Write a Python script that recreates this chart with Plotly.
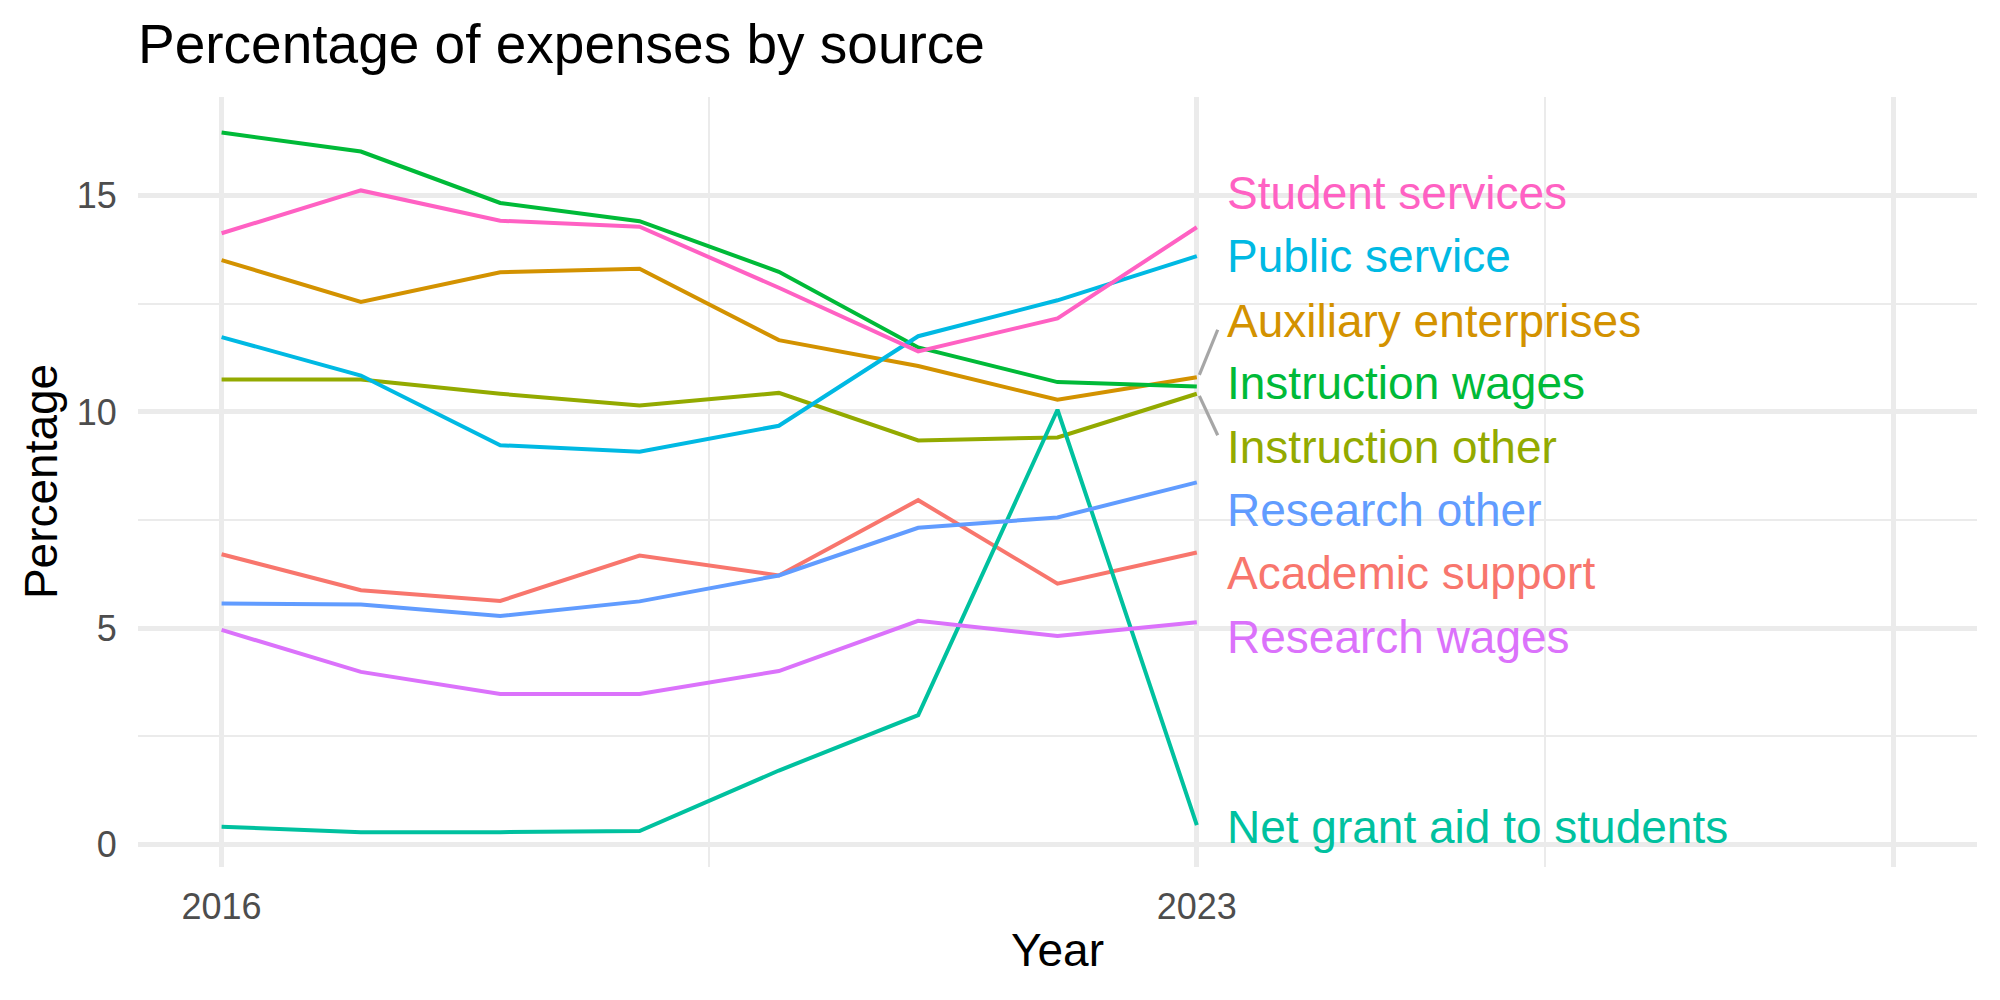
import plotly.graph_objects as go

years = [2016, 2017, 2018, 2019, 2020, 2021, 2022, 2023]

categories = [
    "Academic support",
    "Auxiliary enterprises",
    "Instruction other",
    "Instruction wages",
    "Net grant aid to students",
    "Public service",
    "Research other",
    "Research wages",
    "Student services",
]

academic_support = [6.71, 5.88, 5.63, 6.68, 6.22, 7.96, 6.03, 6.75]
auxiliary_enterprises = [13.51, 12.54, 13.23, 13.31, 11.66, 11.06, 10.28, 10.80]
instruction_other = [10.75, 10.75, 10.42, 10.15, 10.44, 9.34, 9.41, 10.42]
instruction_wages = [16.46, 16.02, 14.83, 14.41, 13.24, 11.49, 10.69, 10.59]
net_grant_aid = [0.41, 0.285, 0.285, 0.31, 1.71, 2.99, 10.05, 0.45]
public_service = [11.73, 10.84, 9.23, 9.08, 9.68, 11.75, 12.58, 13.60]
research_other = [5.57, 5.55, 5.28, 5.62, 6.22, 7.32, 7.56, 8.37]
research_wages = [4.96, 3.99, 3.48, 3.48, 4.01, 5.17, 4.82, 5.14]
student_services = [14.13, 15.12, 14.42, 14.28, 12.87, 11.40, 12.16, 14.27]

series_values = [
    academic_support, auxiliary_enterprises, instruction_other, instruction_wages,
    net_grant_aid, public_service, research_other, research_wages, student_services,
]

colors = ["#F8766D", "#D39200", "#93AA00", "#00BA38", "#00C19F",
          "#00B9E3", "#619CFF", "#DB72FB", "#FF61C3"]

# repelled label positions (y)
label_y = [6.27, 12.10, 9.20, 10.67, 0.40, 13.60, 7.73, 4.79, 15.05]
label_x = 2023.2

x_tickvals = [2016, 2023, 2028]
x_ticktext = ["2016", "2023", ""]
y_tickvals = [0, 5, 10, 15]
y_ticktext = ["0", "5", "10", "15"]

FONT = "Liberation Sans, Arial, Helvetica, sans-serif"

fig = go.Figure()

for name, vals, col in zip(categories, series_values, colors):
    fig.add_trace(go.Scatter(
        x=years, y=vals, mode="lines", name=name,
        line=dict(color=col, width=4), showlegend=False,
    ))

# repel segments for labels that were moved far from their line end
for name, vals, col, ly in zip(categories, series_values, colors, label_y):
    x0, y0 = years[-1], vals[-1]
    if abs(ly - y0) > 1.0:
        y1 = ly - 0.2 if ly > y0 else ly + 0.26
        x1 = label_x - 0.05
        xs = x0 + 0.12 * (x1 - x0)
        ys = y0 + 0.05 * (y1 - y0)
        fig.add_trace(go.Scatter(
            x=[xs, x1], y=[ys, y1], mode="lines",
            line=dict(color="#A6A6A6", width=3.2), showlegend=False,
            hoverinfo="skip",
        ))

for name, col, ly in zip(categories, colors, label_y):
    fig.add_annotation(
        x=label_x, y=ly, xref="x", yref="y", text=name, showarrow=False,
        xanchor="left", yanchor="middle",
        font=dict(family=FONT, size=46, color=col),
    )

# axis titles
fig.add_annotation(x=0.5, y=-0.108, xref="paper", yref="paper", text="Year",
                   showarrow=False, xanchor="center", yanchor="middle",
                   font=dict(family=FONT, size=46, color="black"))
fig.add_annotation(x=-0.0527, y=0.5, xref="paper", yref="paper", text="Percentage",
                   showarrow=False, xanchor="center", yanchor="middle", textangle=-90,
                   font=dict(family=FONT, size=46, color="black"))

fig.update_layout(
    width=2000, height=1000,
    margin=dict(l=138, r=23, t=97, b=133),
    paper_bgcolor="white", plot_bgcolor="white",
    font=dict(family=FONT),
    title=dict(text="Percentage of expenses by source", x=0, xref="paper",
               xanchor="left", y=0.956, yref="container", yanchor="middle",
               font=dict(family=FONT, size=55, color="black")),
    showlegend=False,
)

fig.update_xaxes(
    range=[2015.4, 2028.6], tickmode="array", tickvals=x_tickvals, ticktext=x_ticktext,
    showgrid=True, gridcolor="#EBEBEB", gridwidth=4.5, zeroline=False, showline=False,
    ticks="outside", ticklen=8, tickcolor="rgba(0,0,0,0)",
    tickfont=dict(family=FONT, size=36, color="#4D4D4D"),
    minor=dict(tickmode="linear", tick0=2019.5, dtick=6, showgrid=True,
               gridcolor="#EBEBEB", gridwidth=2.3, ticks=""),
)
fig.update_yaxes(
    range=[-0.52, 17.28], tickmode="array", tickvals=y_tickvals, ticktext=y_ticktext,
    showgrid=True, gridcolor="#EBEBEB", gridwidth=4.5, zeroline=False, showline=False,
    ticks="outside", ticklen=13, tickcolor="rgba(0,0,0,0)",
    tickfont=dict(family=FONT, size=36, color="#4D4D4D"),
    minor=dict(tickmode="linear", tick0=0, dtick=2.5, showgrid=True,
               gridcolor="#EBEBEB", gridwidth=2.3, ticks=""),
)

fig.write_html("out.html")
